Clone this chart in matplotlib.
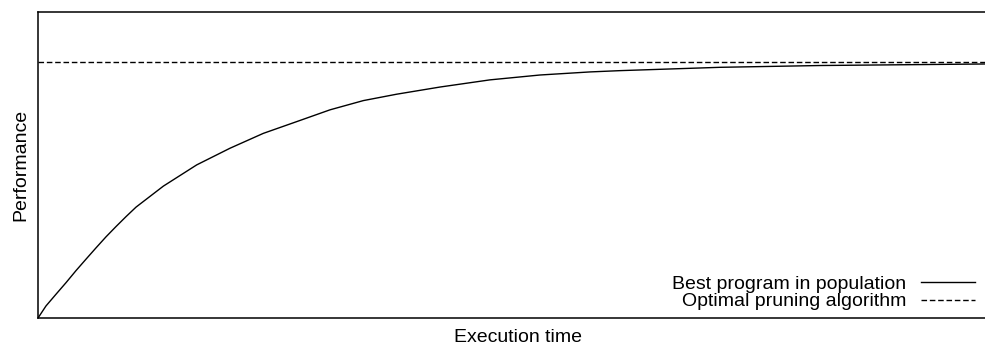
import matplotlib.pyplot as plt

plt.rcParams['font.family'] = ['Liberation Sans', 'DejaVu Sans']

# execution time (arbitrary units) and performance
exec_time = [0, 0.83, 1.88, 2.92, 3.96, 5.01, 6.05, 7.09, 8.13, 9.18, 10.22,
             13.07, 16.55, 20.02, 23.49, 26.98, 30.45, 33.92, 37.40, 41.92,
             47.13, 52.35, 57.56, 60.69, 71.11, 81.54, 98.75]
best_perf = [0, 0.047, 0.093, 0.138, 0.185, 0.230, 0.274, 0.317, 0.357, 0.396, 0.433,
             0.515, 0.598, 0.663, 0.721, 0.767, 0.813, 0.849, 0.874, 0.902,
             0.930, 0.949, 0.961, 0.966, 0.979, 0.986, 0.992]
optimal_perf = 1.0

fig = plt.figure(figsize=(9.85, 3.47), dpi=100)
ax = fig.add_axes([0.0386, 0.0836, 0.9736, 0.8818])

ax.plot(exec_time, best_perf, color="black", lw=1.0, label="Best program in population")
ax.axhline(optimal_perf, color="black", lw=1.0, dashes=(4, 2), label="Optimal pruning algorithm")

ax.set_xlim(0, 100)
ax.set_ylim(0, 1.195)
ax.set_xticks([])
ax.set_yticks([])
for sp in ax.spines.values():
    sp.set_linewidth(1.1)

ax.set_xlabel("Execution time", fontsize=14, labelpad=8)
ax.set_ylabel("Performance", fontsize=14, labelpad=6)

# legend: labels on the left, line samples on the right
ax.legend(loc="lower right", bbox_to_anchor=(0.977, 0.025), frameon=False,
          markerfirst=False, fontsize=14, handlelength=2.8, handletextpad=0.75,
          borderpad=0, borderaxespad=0, labelspacing=0.0)

fig.savefig("out.png", dpi=100)
